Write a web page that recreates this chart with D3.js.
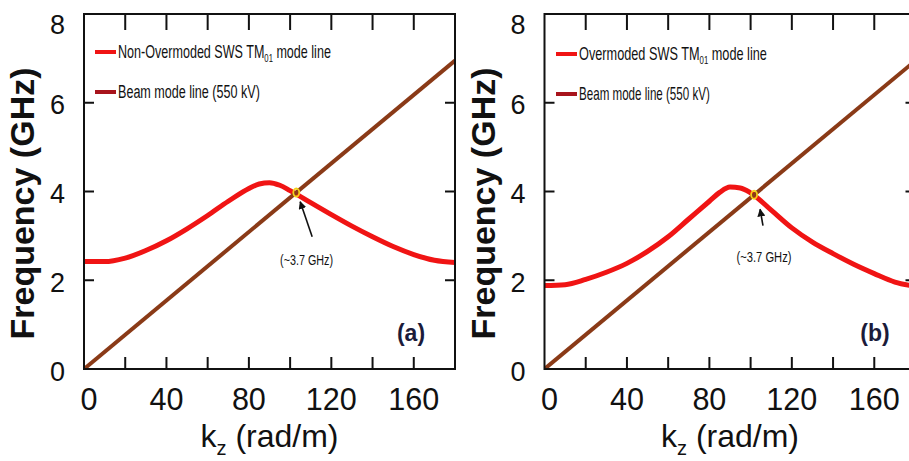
<!DOCTYPE html>
<html>
<head>
<meta charset="utf-8">
<script src="https://cdn.jsdelivr.net/npm/d3@7"></script>
<style>
  body { margin: 0; background: #fff; }
  svg { display: block; font-family: "Liberation Sans", Arial, sans-serif; }
</style>
</head>
<body>
<svg id="chart" width="909" height="461"></svg>
<script>
// data
const kz = [0, 10, 20, 30, 40, 50, 60, 70, 80, 85, 90, 95, 100, 110, 120, 130, 140, 150, 160, 170, 180];
const freqNonOver = [2.42, 2.42, 2.5, 2.67, 2.89, 3.16, 3.46, 3.78, 4.07, 4.17, 4.2, 4.14, 4.02, 3.75, 3.48, 3.22, 2.98, 2.76, 2.58, 2.45, 2.4];
const freqOver = [1.88, 1.9, 2.02, 2.18, 2.38, 2.65, 2.98, 3.38, 3.78, 3.98, 4.1, 4.08, 3.97, 3.58, 3.18, 2.86, 2.6, 2.36, 2.15, 1.96, 1.86];
const beamKz = [0, 180];
const beamFreq = [0, 6.95];
const crossK = [103, 101.7];
const xTicks = [0, 20, 40, 60, 80, 100, 120, 140, 160, 180];
const xLabels = [0, 40, 80, 120, 160];
const yTicks = [0, 2, 4, 6, 8];
const legendMode = ['Non-Overmoded SWS TM', 'Overmoded SWS TM'];
const legendBeam = 'Beam mode line (550 kV)';
const panelTags = ['(a)', '(b)'];
const noteText = '(~3.7 GHz)';

const svg = d3.select('#chart');
const defs = svg.append('defs');
defs.append('marker')
  .attr('id', 'arrow')
  .attr('viewBox', '0 0 10 10')
  .attr('refX', 9).attr('refY', 5)
  .attr('markerWidth', 5).attr('markerHeight', 5)
  .attr('orient', 'auto')
  .append('path').attr('d', 'M0,0 L10,5 L0,10 z').attr('fill', '#111');

const panels = [
  { left: 84, right: 455, mode: freqNonOver, legendX: 95, legendW: [213, 142], legendY: [52, 92],
    note: { k: 108, f: 2.46, w: 53, tail: [110.7, 2.98], tip: [104.9, 3.77] }, tagX: 411 },
  { left: 544.5, right: 915.5, mode: freqOver, legendX: 556, legendW: [188, 131], legendY: [54, 94],
    note: { k: 106.5, f: 2.53, w: 55, tail: [106, 3.23], tip: [104.6, 3.6] }, tagX: 875 }
];
const plotTop = 14, plotBottom = 369;

// squeeze a text node horizontally to a target width
function fitWidth(sel, x, y, w) {
  const len = sel.node().getComputedTextLength();
  sel.attr('transform', `translate(${x},${y}) scale(${w / len},1)`);
}

panels.forEach(function (p, i) {
  const x = d3.scaleLinear().domain([0, 180]).range([p.left, p.right]);
  const y = d3.scaleLinear().domain([0, 8]).range([plotBottom, plotTop]);
  const g = svg.append('g');

  const clipId = 'clip' + i;
  defs.append('clipPath').attr('id', clipId)
    .append('rect').attr('x', p.left).attr('y', plotTop)
    .attr('width', p.right - p.left).attr('height', plotBottom - plotTop);

  const plot = g.append('g').attr('clip-path', `url(#${clipId})`);
  const line = d3.line().x(d => x(d[0])).y(d => y(d[1])).curve(d3.curveMonotoneX);

  plot.append('path')
    .datum(kz.map((k, j) => [k, p.mode[j]]))
    .attr('d', line)
    .attr('fill', 'none').attr('stroke', '#f01414').attr('stroke-width', 5)
    .attr('stroke-linejoin', 'round');

  plot.append('path')
    .datum(beamKz.map((k, j) => [k, beamFreq[j]]))
    .attr('d', d3.line().x(d => x(d[0])).y(d => y(d[1])))
    .attr('fill', 'none').attr('stroke', '#8a3a17').attr('stroke-width', 4);

  // crossing marker
  const ck = crossK[i];
  const cf = beamFreq[1] * ck / beamKz[1];
  plot.append('ellipse')
    .attr('cx', x(ck)).attr('cy', y(cf)).attr('rx', 3).attr('ry', 4)
    .attr('fill', 'none').attr('stroke', '#f2d21a').attr('stroke-width', 1.8);

  // frame
  g.append('rect')
    .attr('x', p.left).attr('y', plotTop)
    .attr('width', p.right - p.left).attr('height', plotBottom - plotTop)
    .attr('fill', 'none').attr('stroke', '#111').attr('stroke-width', 2);

  // ticks (inward)
  xTicks.slice(1, -1).forEach(function (t) {
    g.append('line').attr('x1', x(t)).attr('x2', x(t)).attr('y1', plotBottom).attr('y2', plotBottom - 12)
      .attr('stroke', '#111').attr('stroke-width', 2);
    g.append('line').attr('x1', x(t)).attr('x2', x(t)).attr('y1', plotTop).attr('y2', plotTop + 16)
      .attr('stroke', '#111').attr('stroke-width', 2);
  });
  yTicks.slice(1, -1).forEach(function (t) {
    g.append('line').attr('x1', p.left).attr('x2', p.left + 10).attr('y1', y(t)).attr('y2', y(t))
      .attr('stroke', '#111').attr('stroke-width', 2);
    g.append('line').attr('x1', p.right).attr('x2', p.right - 10).attr('y1', y(t)).attr('y2', y(t))
      .attr('stroke', '#111').attr('stroke-width', 2);
  });

  // tick labels
  xLabels.forEach(function (t) {
    g.append('text')
      .attr('x', Math.max(x(t), p.left + 5)).attr('y', 410)
      .attr('text-anchor', 'middle').attr('font-size', 31).attr('fill', '#111')
      .attr('textLength', String(t).length * 17).attr('lengthAdjust', 'spacingAndGlyphs')
      .text(t);
  });
  yTicks.forEach(function (t) {
    g.append('text')
      .attr('x', p.left - 19).attr('y', Math.max(y(t) + 2, 24))
      .attr('dy', '0.36em')
      .attr('text-anchor', 'end').attr('font-size', 27).attr('fill', '#111')
      .text(t);
  });

  // axis titles
  const xt = g.append('text')
    .attr('x', (p.left + p.right) / 2).attr('y', 447)
    .attr('text-anchor', 'middle').attr('font-size', 32).attr('fill', '#111');
  xt.append('tspan').text('k');
  xt.append('tspan').attr('font-size', 20).attr('dy', 8).text('z');
  xt.append('tspan').attr('dy', -8).text(' (rad/m)');

  g.append('text')
    .attr('transform', `translate(${p.left - 50},${(plotTop + plotBottom) / 2 + 12}) rotate(-90)`)
    .attr('text-anchor', 'middle').attr('font-size', 34).attr('font-weight', 'bold')
    .attr('fill', '#111')
    .text('Frequency (GHz)');

  // legend
  g.append('line').attr('x1', p.legendX).attr('x2', p.legendX + 21)
    .attr('y1', p.legendY[0]).attr('y2', p.legendY[0])
    .attr('stroke', '#f01414').attr('stroke-width', 4);
  g.append('line').attr('x1', p.legendX).attr('x2', p.legendX + 21)
    .attr('y1', p.legendY[1]).attr('y2', p.legendY[1])
    .attr('stroke', '#a8141c').attr('stroke-width', 4);

  const l1 = g.append('text').attr('font-size', 18).attr('fill', '#111');
  l1.append('tspan').text(legendMode[i]);
  l1.append('tspan').attr('font-size', 11).attr('dy', 4).text('01');
  l1.append('tspan').attr('dy', -4).text(' mode line');
  fitWidth(l1, p.legendX + 23, p.legendY[0] + 6, p.legendW[0]);

  const l2 = g.append('text').attr('font-size', 18).attr('fill', '#111').text(legendBeam);
  fitWidth(l2, p.legendX + 23, p.legendY[1] + 6, p.legendW[1]);

  // note with arrow
  g.append('line')
    .attr('x1', x(p.note.tail[0])).attr('y1', y(p.note.tail[1]))
    .attr('x2', x(p.note.tip[0])).attr('y2', y(p.note.tip[1]))
    .attr('stroke', '#111').attr('stroke-width', 1.6)
    .attr('marker-end', 'url(#arrow)');
  const nt = g.append('text').attr('font-size', 15).attr('fill', '#111').text(noteText);
  fitWidth(nt, x(p.note.k) - p.note.w / 2, y(p.note.f) + 5, p.note.w);

  // panel tag
  g.append('text')
    .attr('x', p.tagX).attr('y', 341)
    .attr('text-anchor', 'middle').attr('font-size', 23).attr('font-weight', 'bold')
    .attr('fill', '#1b1b3a')
    .text(panelTags[i]);
});
</script>
</body>
</html>
